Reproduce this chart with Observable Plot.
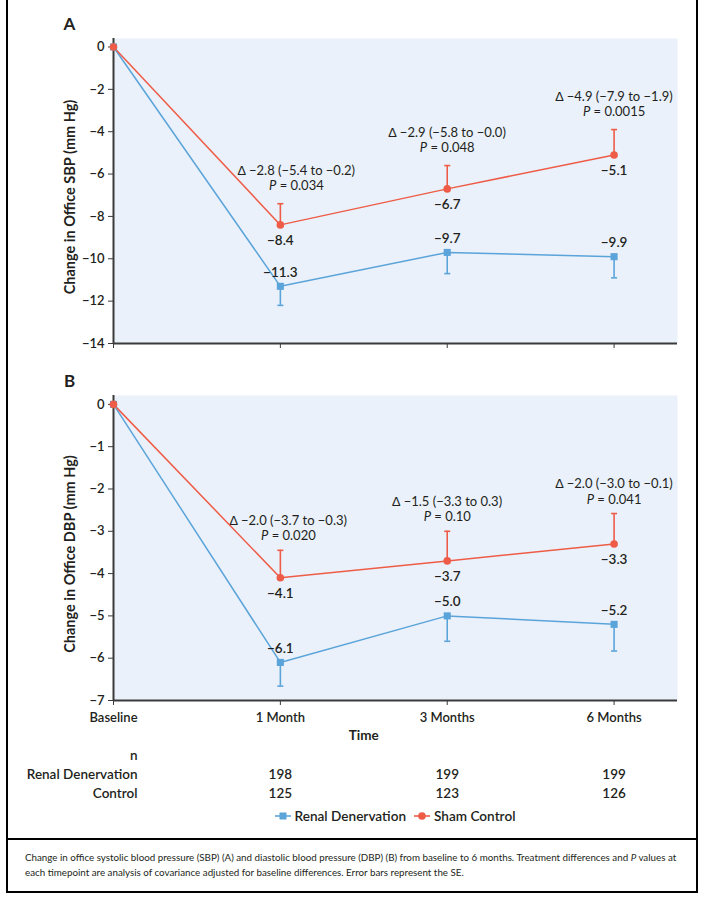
<!DOCTYPE html>
<html><head><meta charset="utf-8">
<script src="https://cdn.jsdelivr.net/npm/d3@7"></script>
<script src="https://cdn.jsdelivr.net/npm/@observablehq/plot@0.6"></script>
<style>
body{margin:0;background:#fff;}
#root{position:relative;width:708px;height:905px;overflow:hidden;font-family:Lato,"Noto Sans",sans-serif;color:#231f20;}
.box{position:absolute;left:6px;top:-2px;width:688px;height:891px;border:2px solid #000;}
.divider{position:absolute;left:6px;top:838px;width:692px;height:2px;background:#000;}
.legend{position:absolute;left:113px;width:564px;top:806px;height:20px;display:flex;justify-content:center;align-items:center;font-size:13.6px;font-weight:600;gap:0;}
.legend .item{display:flex;align-items:center;margin:0 4px;}
.legend svg{margin-right:4px;}
</style></head><body><div id="root"><div class="box"></div><div class="divider"></div></div>
<script>
// ---------- data ----------
const timepoints = ["Baseline", "1 Month", "3 Months", "6 Months"];
const groups = ["Renal Denervation", "Sham Control"];

const sbpRDN = [0, -11.3, -9.7, -9.9];
const sbpRDNse = [0, 0.9, 1.0, 1.0];
const sbpSham = [0, -8.4, -6.7, -5.1];
const sbpShamSe = [0, 1.0, 1.1, 1.2];
const sbpDelta = ["∆ −2.8 (−5.4 to −0.2)", "∆ −2.9 (−5.8 to −0.0)", "∆ −4.9 (−7.9 to −1.9)"];
const sbpP = ["0.034", "0.048", "0.0015"];
const sbpTicks = [0, -2, -4, -6, -8, -10, -12, -14];

const dbpRDN = [0, -6.1, -5.0, -5.2];
const dbpRDNse = [0, 0.56, 0.6, 0.63];
const dbpSham = [0, -4.1, -3.7, -3.3];
const dbpShamSe = [0, 0.65, 0.7, 0.72];
const dbpDelta = ["∆ −2.0 (−3.7 to −0.3)", "∆ −1.5 (−3.3 to 0.3)", "∆ −2.0 (−3.0 to −0.1)"];
const dbpP = ["0.020", "0.10", "0.041"];
const dbpTicks = [0, -1, -2, -3, -4, -5, -6, -7];

const tableRows = ["n", "Renal Denervation", "Control"];
const nRDN = [198, 199, 199];
const nControl = [125, 123, 126];

const caption1 = ["Change in office systolic blood pressure (SBP) (A) and diastolic blood pressure (DBP) (B) from baseline to 6 months. Treatment differences and ", "P", " values at"];
const caption2 = "each timepoint are analysis of covariance adjusted for baseline differences. Error bars represent the SE.";

// ---------- style ----------
const BLUE = "#5ba4da", RED = "#ee5c47", BG = "#eaf1fa", AXIS = "#3a3a3a", INK = "#231f20";
const FONT = "Lato, 'Noto Sans', sans-serif";
const W = 708, ML = 113, MR = 31;
const xDomain = [0, 3.38];
const minus = s => String(s).replace(/-/g, "−");
const fmt1 = v => minus(v.toFixed(1));

const capSymbol = {draw(ctx, size) { const r = Math.sqrt(size / Math.PI); ctx.moveTo(-r, 0); ctx.lineTo(r, 0); }};

function rows(vals, se, group) {
  return vals.map((v, i) => ({t: i, value: v, se: se[i], group}));
}

function panel({letter, rdn, rdnSe, sham, shamSe, delta, pvals, ticks, yDomain, ylabel, height, marginTop, marginBottom, showX, annDx, annDy}) {
  const R = rows(rdn, rdnSe, groups[0]);
  const S = rows(sham, shamSe, groups[1]);
  const Rp = R.filter(d => d.t > 0), Sp = S.filter(d => d.t > 0);
  const ann = Sp.map((d, k) => ({...d, delta: delta[k], p: "P = " + pvals[k]}));
  const xMid = d3.mean(timepoints.map((_, i) => i));
  const marks = [
    Plot.frame({fill: BG, stroke: "none"}),
    Plot.axisY({ticks, tickSize: 5, tickPadding: 4, tickFormat: v => minus(v), fontSize: 13, fontWeight: 600, stroke: AXIS, label: null}),
    Plot.axisX({ticks: timepoints.map((_, i) => i), tickSize: 5, tickPadding: 7, tickFormat: i => showX ? timepoints[i] : "", fontSize: 13, fontWeight: 600, stroke: AXIS, label: null}),
    Plot.ruleX([0], {stroke: AXIS, strokeWidth: 2}),
    Plot.ruleY([yDomain[0]], {stroke: AXIS, strokeWidth: 2}),
    // error bars
    Plot.ruleX(Rp, {x: "t", y1: "value", y2: d => d.value - d.se, stroke: BLUE, strokeWidth: 1.6}),
    Plot.dot(Rp, {x: "t", y: d => d.value - d.se, symbol: capSymbol, r: 3, stroke: BLUE, strokeWidth: 1.6}),
    Plot.ruleX(Sp, {x: "t", y1: "value", y2: d => d.value + d.se, stroke: RED, strokeWidth: 1.6}),
    Plot.dot(Sp, {x: "t", y: d => d.value + d.se, symbol: capSymbol, r: 3, stroke: RED, strokeWidth: 1.6}),
    // lines
    Plot.line(R, {x: "t", y: "value", stroke: BLUE, strokeWidth: 1.5}),
    Plot.line(S, {x: "t", y: "value", stroke: RED, strokeWidth: 1.5}),
    Plot.dot(R, {x: "t", y: "value", symbol: "square", r: 4, fill: BLUE}),
    Plot.dot(S, {x: "t", y: "value", symbol: "circle", r: 3.8, fill: RED}),
    // value labels
    Plot.text(Rp, {x: "t", y: "value", text: d => fmt1(d.value), dy: -14, fontSize: 13.5, fontWeight: 600, fill: INK}),
    Plot.text(Sp, {x: "t", y: "value", text: d => fmt1(d.value), dy: 16, fontSize: 13.5, fontWeight: 600, fill: INK}),
    // annotations
    Plot.text(ann.filter(d => d.t === 1), {x: "t", y: d => d.value + d.se, text: "delta", dx: annDx, dy: annDy - 15.5, fontSize: 13, fill: INK}),
    Plot.text(ann.filter(d => d.t === 1), {x: "t", y: d => d.value + d.se, text: "p", dx: annDx, dy: annDy, fontSize: 13, fill: INK}),
    Plot.text(ann.filter(d => d.t > 1), {x: "t", y: d => d.value + d.se, text: "delta", dy: annDy - 15.5, fontSize: 13, fill: INK}),
    Plot.text(ann.filter(d => d.t > 1), {x: "t", y: d => d.value + d.se, text: "p", dy: annDy, fontSize: 13, fill: INK}),
    // y label
    Plot.text([ylabel], {text: d => d, frameAnchor: "left", textAnchor: "middle", lineAnchor: "middle", rotate: -90, dx: -43, dy: 6, fontSize: 14.5, fontWeight: "bold", fill: INK}),
    // panel letter
    Plot.text([letter], {text: d => d, frameAnchor: "top-left", textAnchor: "middle", lineAnchor: "middle", dx: -44, dy: -14, fontSize: 17, fontWeight: "bold", fill: INK})
  ];
  if (showX) marks.push(Plot.text(["Time"], {text: d => d, x: xMid, frameAnchor: "bottom", lineAnchor: "middle", dy: 35, fontSize: 13.5, fontWeight: "bold", fill: INK}));
  const p = Plot.plot({
    width: W, height, marginLeft: ML, marginRight: MR, marginTop, marginBottom,
    style: {fontFamily: FONT, color: INK, background: "transparent", overflow: "visible"},
    x: {type: "linear", domain: xDomain},
    y: {domain: yDomain},
    marks
  });
  d3.select(p).selectAll("text").each(function() {
    const t = this.textContent;
    if (t.startsWith("P = ")) {
      const rest = t.slice(1);
      d3.select(this).text(null);
      d3.select(this).append("tspan").attr("font-style", "italic").text("P");
      d3.select(this).append("tspan").text(rest);
    }
  });
  return p;
}

const root = document.getElementById("root");

const pA = panel({letter: "A", rdn: sbpRDN, rdnSe: sbpRDNse, sham: sbpSham, shamSe: sbpShamSe, delta: sbpDelta, pvals: sbpP,
  ticks: sbpTicks, yDomain: [-14, 0.4], ylabel: "Change in Office SBP (mm Hg)", height: 360, marginTop: 38, marginBottom: 17, showX: false, annDx: 16, annDy: -17.5});
pA.style.position = "absolute"; pA.style.top = "0px"; pA.style.left = "0px";
root.appendChild(pA);

const pB = panel({letter: "B", rdn: dbpRDN, rdnSe: dbpRDNse, sham: dbpSham, shamSe: dbpShamSe, delta: dbpDelta, pvals: dbpP,
  ticks: dbpTicks, yDomain: [-7, 0.21], ylabel: "Change in Office DBP (mm Hg)", height: 385, marginTop: 35, marginBottom: 45, showX: true, annDx: 8, annDy: -14});
pB.style.position = "absolute"; pB.style.top = "360px"; pB.style.left = "0px";
root.appendChild(pB);

// ---------- n table ----------
const tRows = [
  ...nRDN.map((n, i) => ({t: i + 1, row: tableRows[1], n})),
  ...nControl.map((n, i) => ({t: i + 1, row: tableRows[2], n}))
];
const pT = Plot.plot({
  width: W, height: 60, marginLeft: ML, marginRight: MR, marginTop: 0, marginBottom: 0,
  style: {fontFamily: FONT, color: INK, background: "transparent", overflow: "visible"},
  x: {type: "linear", domain: xDomain, axis: null},
  y: {type: "point", domain: tableRows, range: [10, 48], padding: 0, axis: null},
  marks: [
    Plot.text(tableRows, {y: d => d, text: d => d, frameAnchor: "left", dx: 24, textAnchor: "end", lineAnchor: "middle", fontSize: 13.5, fontWeight: 600, fill: INK}),
    Plot.text(tRows, {x: "t", y: "row", text: d => String(d.n), lineAnchor: "middle", fontSize: 13.5, fontWeight: 600, fill: INK})
  ]
});
pT.style.position = "absolute"; pT.style.top = "745px"; pT.style.left = "0px";
root.appendChild(pT);

// ---------- legend ----------
const leg = document.createElement("div");
leg.className = "legend";
groups.forEach((g, i) => {
  const item = document.createElement("div");
  item.className = "item";
  const c = i === 0 ? BLUE : RED;
  const marker = i === 0
    ? `<rect x="4.5" y="3.5" width="7" height="7" fill="${c}"/>`
    : `<circle cx="8" cy="7" r="3.8" fill="${c}"/>`;
  item.innerHTML = `<svg width="16" height="14"><line x1="0" x2="16" y1="7" y2="7" stroke="${c}" stroke-width="1.6"/>${marker}</svg><span>${g}</span>`;
  leg.appendChild(item);
});
root.appendChild(leg);

// ---------- caption ----------
const cap = d3.create("svg").attr("width", W).attr("height", 45)
  .style("position", "absolute").style("top", "845px").style("left", "0px")
  .style("font-family", FONT).style("font-size", "10px").attr("fill", INK);
const l1 = cap.append("text").attr("x", 25).attr("y", 15.5);
l1.append("tspan").text(caption1[0]);
l1.append("tspan").attr("font-style", "italic").text(caption1[1]);
l1.append("tspan").text(caption1[2]);
const l2 = cap.append("text").attr("x", 25).attr("y", 30.5).text(caption2);
root.appendChild(cap.node());
const len1 = l1.node().getComputedTextLength();
if (len1 > 0) cap.style("font-size", (10 * 652 / len1).toFixed(2) + "px");
</script></body></html>
